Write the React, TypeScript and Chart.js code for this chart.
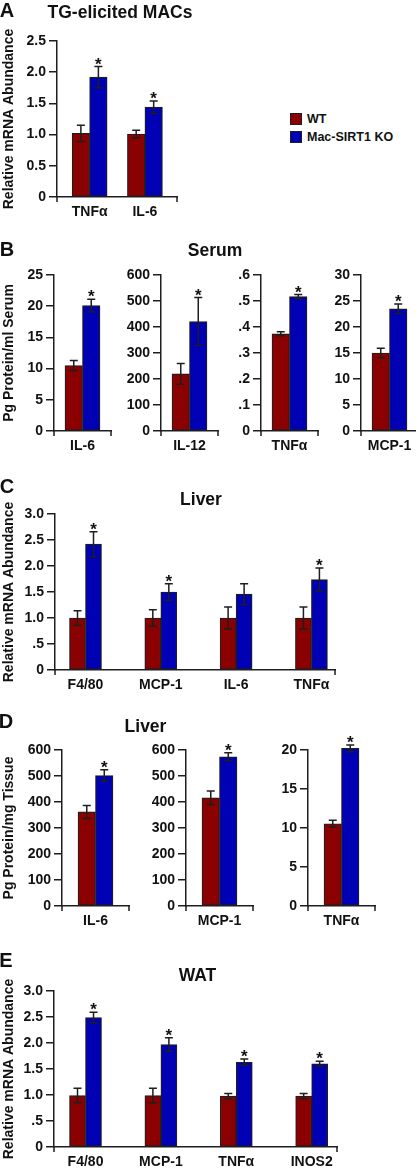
import React, { useEffect, useRef } from "react";
import { Chart, registerables } from "chart.js";

Chart.register(...registerables);

// ---------------- DATA ----------------
const SERIES = ["WT", "Mac-SIRT1 KO"];

// Panel A: TG-elicited MACs
const A_CATS = ["TNFα", "IL-6"];
const A_WT = [1.02, 1.01];
const A_WT_ERR = [0.13, 0.06];
const A_KO = [1.92, 1.44];
const A_KO_ERR = [0.17, 0.1];
const A_STARS = [true, true];
const A_YMAX = 2.5;
const A_YSTEP = 0.5;
const A_YTICKS = ["0", "0.5", "1.0", "1.5", "2.0", "2.5"];

// Panel B: Serum
const B_CATS = ["IL-6", "IL-12", "TNFα", "MCP-1"];
const B_WT = [10.5, 220, 0.374, 15.0];
const B_WT_ERR = [0.8, 40, 0.008, 0.9];
const B_KO = [20.1, 421, 0.517, 23.5];
const B_KO_ERR = [1.0, 92, 0.008, 0.9];
const B_STARS = [true, true, true, true];
const B_YMAX = [25, 600, 0.6, 30];
const B_YSTEP = [5, 100, 0.1, 5];
const B_YTICKS = [
  ["0", "5", "10", "15", "20", "25"],
  ["0", "100", "200", "300", "400", "500", "600"],
  ["0", ".1", ".2", ".3", ".4", ".5", ".6"],
  ["0", "5", "10", "15", "20", "25", "30"],
];

// Panel C: Liver mRNA
const C_CATS = ["F4/80", "MCP-1", "IL-6", "TNFα"];
const C_WT = [1.0, 1.0, 1.0, 1.0];
const C_WT_ERR = [0.14, 0.16, 0.21, 0.21];
const C_KO = [2.42, 1.5, 1.46, 1.74];
const C_KO_ERR = [0.24, 0.16, 0.2, 0.22];
const C_STARS = [true, true, false, true];
const C_YMAX = 3;
const C_YSTEP = 0.5;
const C_YTICKS = ["0", ".5", "1.0", "1.5", "2.0", "2.5", "3.0"];

// Panel D: Liver protein
const D_CATS = ["IL-6", "MCP-1", "TNFα"];
const D_WT = [362, 416, 10.55];
const D_WT_ERR = [25, 26, 0.43];
const D_KO = [502, 574, 20.2];
const D_KO_ERR = [22, 15, 0.43];
const D_STARS = [true, true, true];
const D_YMAX = [600, 600, 20];
const D_YSTEP = [100, 100, 5];
const D_YTICKS = [
  ["0", "100", "200", "300", "400", "500", "600"],
  ["0", "100", "200", "300", "400", "500", "600"],
  ["0", "5", "10", "15", "20"],
];

// Panel E: WAT
const E_CATS = ["F4/80", "MCP-1", "TNFα", "INOS2"];
const E_WT = [0.99, 0.99, 0.98, 0.98];
const E_WT_ERR = [0.14, 0.14, 0.05, 0.05];
const E_KO = [2.49, 1.97, 1.63, 1.6];
const E_KO_ERR = [0.1, 0.13, 0.06, 0.05];
const E_STARS = [true, true, true, true];
const E_YMAX = 3;
const E_YSTEP = 0.5;
const E_YTICKS = ["0", ".5", "1.0", "1.5", "2.0", "2.5", "3.0"];

// ---------------- STYLE / LAYOUT ----------------
const FONT = '"Liberation Sans", Arial, Helvetica, sans-serif';
const WT_COLOR = "#8b0000";
const KO_COLOR = "#0000b4";
const EDGE = "#1e1e1e";
const TEXT = "#111111";
const PT = 24;
const XH = 32;
const PR = 24;

type Spec = {
  key: string;
  cats: string[];
  wt: number[];
  wtErr: number[];
  ko: number[];
  koErr: number[];
  stars: boolean[];
  ymax: number;
  ystep: number;
  yticks: string[];
  ytitle?: string;
  axisX: number;
  right: number;
  top: number;
  bottom: number;
  xmin: number;
  xmax: number;
  barW: number;
};

const SPECS: Spec[] = [];

SPECS.push({
  key: "A",
  cats: A_CATS, wt: A_WT, wtErr: A_WT_ERR, ko: A_KO, koErr: A_KO_ERR, stars: A_STARS,
  ymax: A_YMAX, ystep: A_YSTEP, yticks: A_YTICKS,
  ytitle: "Relative mRNA Abundance",
  axisX: 57, right: 177, top: 41, bottom: 197, xmin: -0.59, xmax: 1.58, barW: 17.5,
});

const B_AXES = [54, 161, 261, 361];
B_CATS.forEach((c, i) => {
  SPECS.push({
    key: "B" + i,
    cats: [c], wt: [B_WT[i]], wtErr: [B_WT_ERR[i]], ko: [B_KO[i]], koErr: [B_KO_ERR[i]], stars: [B_STARS[i]],
    ymax: B_YMAX[i], ystep: B_YSTEP[i], yticks: B_YTICKS[i],
    ytitle: i === 0 ? "Pg Protein/ml Serum" : undefined,
    axisX: B_AXES[i], right: B_AXES[i] + 57, top: 275, bottom: 431, xmin: -0.5, xmax: 0.5, barW: 17.5,
  });
});

SPECS.push({
  key: "C",
  cats: C_CATS, wt: C_WT, wtErr: C_WT_ERR, ko: C_KO, koErr: C_KO_ERR, stars: C_STARS,
  ymax: C_YMAX, ystep: C_YSTEP, yticks: C_YTICKS,
  ytitle: "Relative mRNA Abundance",
  axisX: 55, right: 335, top: 514, bottom: 670, xmin: -0.405, xmax: 3.313, barW: 16,
});

const D_AXES = [62, 186, 308];
D_CATS.forEach((c, i) => {
  SPECS.push({
    key: "D" + i,
    cats: [c], wt: [D_WT[i]], wtErr: [D_WT_ERR[i]], ko: [D_KO[i]], koErr: [D_KO_ERR[i]], stars: [D_STARS[i]],
    ymax: D_YMAX[i], ystep: D_YSTEP[i], yticks: D_YTICKS[i],
    ytitle: i === 0 ? "Pg Protein/mg Tissue" : undefined,
    axisX: D_AXES[i], right: D_AXES[i] + 67, top: 750, bottom: 906, xmin: -0.5, xmax: 0.5, barW: 17.5,
  });
});

SPECS.push({
  key: "E",
  cats: E_CATS, wt: E_WT, wtErr: E_WT_ERR, ko: E_KO, koErr: E_KO_ERR, stars: E_STARS,
  ymax: E_YMAX, ystep: E_YSTEP, yticks: E_YTICKS,
  ytitle: "Relative mRNA Abundance",
  axisX: 54, right: 337, top: 991, bottom: 1147, xmin: -0.418, xmax: 3.336, barW: 16,
});

const LETTERS = [
  { t: "A", x: 7, y: 10 },
  { t: "B", x: 7, y: 249 },
  { t: "C", x: 7, y: 486 },
  { t: "D", x: 6, y: 721 },
  { t: "E", x: 6, y: 960 },
];
const TITLES = [
  { t: "TG-elicited MACs", x: 120, y: 12.5 },
  { t: "Serum", x: 215, y: 250.5 },
  { t: "Liver", x: 201, y: 500 },
  { t: "Liver", x: 145.5, y: 726.5 },
  { t: "WAT", x: 197.5, y: 975.5 },
];

function overlayPlugin(spec: Spec) {
  return {
    id: "overlay" + spec.key,
    afterDatasetsDraw(chart: any) {
      const ctx = chart.ctx;
      const ys = chart.scales.y;
      const vals = [spec.wt, spec.ko];
      const errs = [spec.wtErr, spec.koErr];
      const cap = 4;
      ctx.save();
      ctx.strokeStyle = EDGE;
      ctx.lineWidth = 1.5;
      ctx.fillStyle = TEXT;
      ctx.font = `bold 17px ${FONT}`;
      ctx.textAlign = "center";
      ctx.textBaseline = "alphabetic";
      for (let d = 0; d < 2; d++) {
        const meta = chart.getDatasetMeta(d);
        meta.data.forEach((bar: any, i: number) => {
          const x = bar.x;
          const hi = ys.getPixelForValue(vals[d][i] + errs[d][i]);
          const lo = ys.getPixelForValue(vals[d][i] - errs[d][i]);
          ctx.beginPath();
          ctx.moveTo(x, hi);
          ctx.lineTo(x, lo);
          ctx.moveTo(x - cap, hi);
          ctx.lineTo(x + cap, hi);
          ctx.moveTo(x - cap, lo);
          ctx.lineTo(x + cap, lo);
          ctx.stroke();
          if (d === 1 && spec.stars[i]) {
            ctx.fillText("*", x, hi + 3);
          }
        });
      }
      const { left, right, bottom } = chart.chartArea;
      ctx.beginPath();
      ctx.moveTo(left, bottom);
      ctx.lineTo(left, bottom + 5);
      ctx.moveTo(right, bottom);
      ctx.lineTo(right, bottom + 5);
      ctx.stroke();
      ctx.restore();
    },
  };
}

function Plot({ spec }: { spec: Spec }) {
  const ref = useRef<HTMLCanvasElement | null>(null);
  const canvasLeft = spec.ytitle ? 0 : spec.axisX - 52;
  const yw = spec.axisX - canvasLeft;
  const W = yw + (spec.right - spec.axisX) + PR;
  const canvasTop = spec.top - PT;
  const H = PT + (spec.bottom - spec.top) + XH;

  useEffect(() => {
    if (!ref.current) return;
    const tickFont = { family: FONT, size: 14, weight: "bold" as const };
    const chart = new Chart(ref.current, {
      type: "bar",
      data: {
        datasets: [
          {
            label: SERIES[0],
            data: spec.wt.map((v, i) => ({ x: i, y: v })),
            backgroundColor: WT_COLOR,
            borderColor: EDGE,
            borderWidth: 1.2,
            borderSkipped: false,
            barThickness: spec.barW,
            clip: false as any,
          },
          {
            label: SERIES[1],
            data: spec.ko.map((v, i) => ({ x: i, y: v })),
            backgroundColor: KO_COLOR,
            borderColor: EDGE,
            borderWidth: 1.2,
            borderSkipped: false,
            barThickness: spec.barW,
            clip: false as any,
          },
        ],
      } as any,
      options: {
        responsive: false,
        animation: false,
        events: [],
        layout: { autoPadding: false, padding: { top: PT, right: PR, left: 0, bottom: 0 } },
        plugins: { legend: { display: false }, tooltip: { enabled: false } },
        scales: {
          x: {
            type: "linear",
            min: spec.xmin,
            max: spec.xmax,
            offset: false,
            grid: { display: false, drawTicks: false },
            border: { display: true, color: EDGE, width: 1.5 },
            ticks: {
              autoSkip: false,
              maxRotation: 0,
              padding: 7,
              color: TEXT,
              font: tickFont,
              callback: (_v: any, i: number) => spec.cats[i],
            },
            afterBuildTicks: (s: any) => {
              s.ticks = spec.cats.map((_, i) => ({ value: i }));
            },
            afterFit: (s: any) => {
              s.height = XH;
            },
          },
          y: {
            type: "linear",
            min: 0,
            max: spec.ymax,
            grid: {
              display: true,
              drawOnChartArea: false,
              drawTicks: true,
              tickLength: 8,
              color: EDGE,
              lineWidth: 1.5,
            },
            border: { display: true, color: EDGE, width: 1.5 },
            ticks: {
              autoSkip: false,
              padding: 3,
              color: TEXT,
              font: tickFont,
              callback: (_v: any, i: number) => spec.yticks[i],
            },
            title: spec.ytitle
              ? {
                  display: true,
                  text: spec.ytitle,
                  color: TEXT,
                  font: { family: FONT, size: 14, weight: "bold" },
                  padding: { top: 0.5, bottom: 0 },
                }
              : { display: false },
            afterBuildTicks: (s: any) => {
              s.ticks = spec.yticks.map((_, i) => ({ value: i * spec.ystep }));
            },
            afterFit: (s: any) => {
              s.width = yw;
            },
          },
        },
      } as any,
      plugins: [overlayPlugin(spec)],
    });
    return () => chart.destroy();
  }, []);

  return (
    <canvas
      ref={ref}
      width={W}
      height={H}
      style={{ position: "absolute", left: canvasLeft, top: canvasTop, width: W, height: H }}
    />
  );
}

export default function App() {
  const textBase: React.CSSProperties = {
    position: "absolute",
    fontFamily: FONT,
    fontWeight: "bold",
    color: TEXT,
    lineHeight: 1,
    whiteSpace: "nowrap",
    transform: "translate(-50%, -50%)",
  };
  const legendColors = [WT_COLOR, KO_COLOR];
  return (
    <div
      style={{
        position: "absolute",
        left: 0,
        top: 0,
        width: 416,
        height: 1168,
        background: "#ffffff",
        overflow: "hidden",
      }}
    >
      {SPECS.map((s) => (
        <Plot key={s.key} spec={s} />
      ))}
      {LETTERS.map((l) => (
        <div key={l.t} style={{ ...textBase, left: l.x, top: l.y, fontSize: 20 }}>
          {l.t}
        </div>
      ))}
      {TITLES.map((t, i) => (
        <div key={i} style={{ ...textBase, left: t.x, top: t.y, fontSize: 17.5 }}>
          {t.t}
        </div>
      ))}
      {SERIES.map((name, i) => (
        <div
          key={name}
          style={{
            position: "absolute",
            left: 290,
            top: 113 + i * 18,
            height: 12,
            display: "flex",
            alignItems: "center",
            fontFamily: FONT,
            fontWeight: "bold",
            fontSize: 12.5,
            color: TEXT,
            whiteSpace: "nowrap",
          }}
        >
          <span
            style={{
              display: "inline-block",
              width: 10,
              height: 10,
              background: legendColors[i],
              border: `1px solid ${EDGE}`,
              marginRight: 5,
            }}
          />
          {name}
        </div>
      ))}
    </div>
  );
}
